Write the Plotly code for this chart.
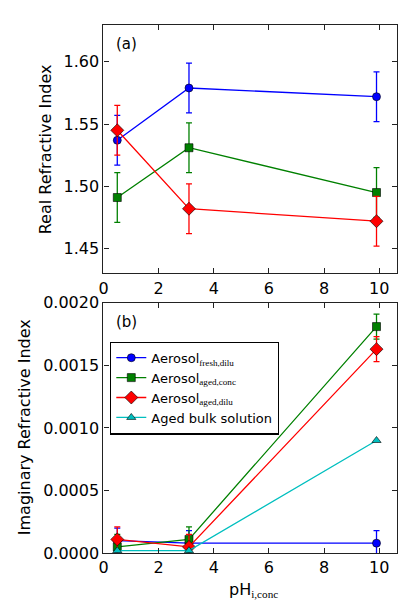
import plotly.graph_objects as go

# ---- data ----
ph = [0.5, 3.1, 9.9]
series_names = [
    "Aerosol<sub><span style='font-family:Liberation Serif'>fresh,dilu</span></sub>",
    "Aerosol<sub><span style='font-family:Liberation Serif'>aged,conc</span></sub>",
    "Aerosol<sub><span style='font-family:Liberation Serif'>aged,dilu</span></sub>",
    "Aged bulk solution",
]
real_fresh_dilu = [1.537, 1.579, 1.572]
real_aged_conc = [1.491, 1.531, 1.495]
real_aged_dilu = [1.545, 1.482, 1.472]
real_err = [0.02, 0.02, 0.02]

imag_fresh_dilu = [0.00010, 0.00008, 0.00008]
imag_aged_conc = [0.00005, 0.00011, 0.00181]
imag_aged_dilu = [0.00011, 0.00005, 0.00163]
imag_bulk = [0.00002, 0.00002, 0.00090]
imag_err_fresh_dilu = [0.0001, 0.0001, 0.0001]
imag_err_aged_conc = [0.0001, 0.0001, 0.0001]
imag_err_aged_dilu = [0.0001, 0.0001, 0.0001]

x_ticks = [0, 2, 4, 6, 8, 10]
real_ticks = [1.45, 1.50, 1.55, 1.60]
imag_ticks = [0.0, 0.0005, 0.0010, 0.0015, 0.0020]

colors = ["#0000ff", "#008000", "#ff0000", "#00bfbf"]
symbols = ["circle", "square", "diamond", "triangle-up"]
sizes = [8, 8, 10, 8]

FONT = "DejaVu Sans"
W, H = 398, 608

fig = go.Figure()


def add(x, y, err, i, xa, ya, show):
    fig.add_trace(go.Scatter(
        x=x, y=y, mode="lines+markers", name=series_names[i],
        xaxis=xa, yaxis=ya, showlegend=show,
        line=dict(color=colors[i], width=1.3),
        marker=dict(symbol=symbols[i], size=sizes[i], color=colors[i],
                    line=dict(color="black", width=0.6)),
        error_y=(dict(type="data", array=err, visible=True, color=colors[i],
                      thickness=1.3, width=3) if err is not None else None),
    ))


# top panel
add(ph, real_fresh_dilu, real_err, 0, "x", "y", False)
add(ph, real_aged_conc, real_err, 1, "x", "y", False)
add(ph, real_aged_dilu, real_err, 2, "x", "y", False)

# bottom panel
add(ph, imag_fresh_dilu, imag_err_fresh_dilu, 0, "x2", "y2", True)
add(ph, imag_aged_conc, imag_err_aged_conc, 1, "x2", "y2", True)
add(ph, imag_aged_dilu, imag_err_aged_dilu, 2, "x2", "y2", True)
add(ph, imag_bulk, None, 3, "x2", "y2", True)

x_left = 100 / W
px_per_unit = 28.0
x_max = (W - 100) / px_per_unit

axis_common = dict(
    showline=True, linecolor="#222222", linewidth=1.3, mirror="allticks",
    ticks="inside", ticklen=5, tickwidth=1, tickcolor="#222222",
    showgrid=False, zeroline=False,
    tickfont=dict(family=FONT, size=16, color="black"),
)

fig.update_layout(
    width=W, height=H,
    margin=dict(l=0, r=0, t=0, b=0),
    paper_bgcolor="white", plot_bgcolor="white",
    font=dict(family=FONT, color="black"),
    xaxis=dict(axis_common, domain=[x_left, 1.0], range=[0, x_max],
               tickvals=x_ticks, anchor="y"),
    yaxis=dict(axis_common, domain=[1 - 273 / H, 1 - 16 / H], range=[1.43, 1.63],
               tickvals=real_ticks, tickformat=".2f", anchor="x"),
    xaxis2=dict(axis_common, domain=[x_left, 1.0], range=[0, x_max],
                tickvals=x_ticks, anchor="y2"),
    yaxis2=dict(axis_common, domain=[1 - 561.7 / H, 1 - 303.3 / H],
                range=[0, 0.0020000001], tickvals=imag_ticks, tickformat=".4f",
                anchor="x2"),
    legend=dict(
        x=106.7 / W, y=1 - 343.3 / H, xanchor="left", yanchor="top",
        bgcolor="white", bordercolor="black", borderwidth=1.2,
        font=dict(family=FONT, size=13, color="black"),
        tracegroupgap=0, itemwidth=30,
    ),
    showlegend=True,
    annotations=[
        dict(text="(a)", x=111 / W, y=1 - 36 / H, xref="paper", yref="paper",
             xanchor="left", yanchor="middle", showarrow=False,
             font=dict(family=FONT, size=15)),
        dict(text="(b)", x=111 / W, y=1 - 323 / H, xref="paper", yref="paper",
             xanchor="left", yanchor="middle", showarrow=False,
             font=dict(family=FONT, size=15)),
        dict(text="Real Refractive Index", x=41.5 / W, y=1 - 145 / H,
             xref="paper", yref="paper", textangle=-90, showarrow=False,
             xanchor="center", yanchor="middle", font=dict(family=FONT, size=16)),
        dict(text="Imaginary Refractive Index", x=20 / W, y=1 - 432 / H,
             xref="paper", yref="paper", textangle=-90, showarrow=False,
             xanchor="center", yanchor="middle", font=dict(family=FONT, size=16)),
        dict(text="pH<sub><span style='font-family:Liberation Serif'>i,conc</span></sub>",
             x=252 / W, y=1 - 600 / H, xref="paper", yref="paper",
             showarrow=False, xanchor="center", yanchor="middle",
             font=dict(family=FONT, size=16)),
    ],
)

fig.write_html(
    "out.html",
    config={"displayModeBar": False},
    post_script="document.body.style.margin='0';document.body.style.padding='0';"
                "document.body.style.overflow='hidden';",
)
